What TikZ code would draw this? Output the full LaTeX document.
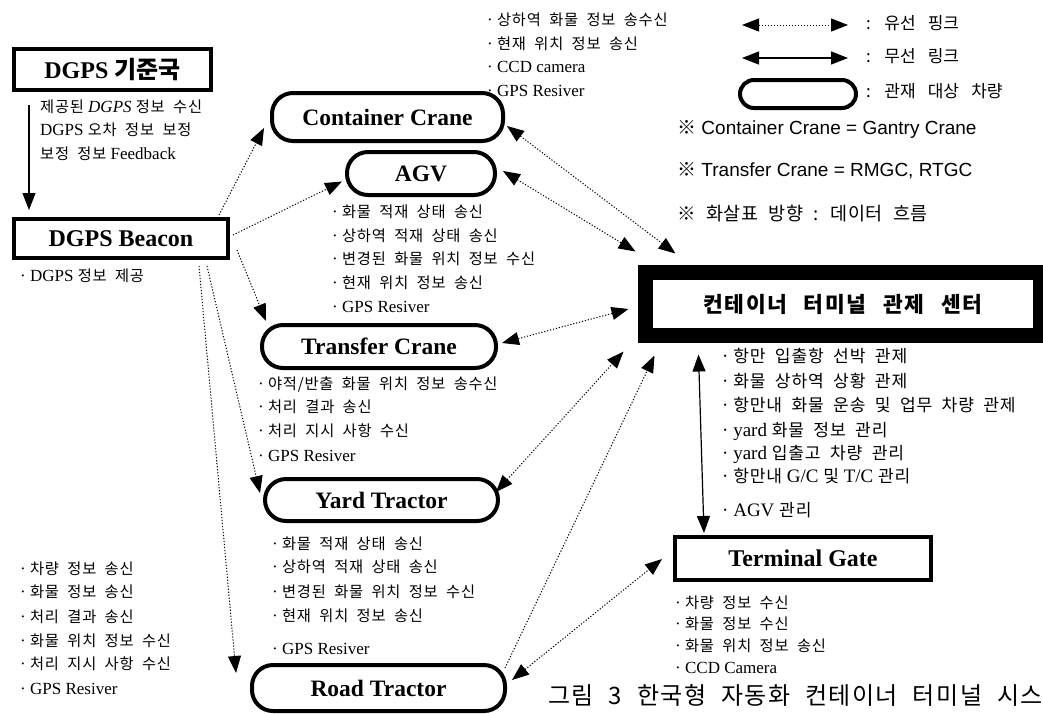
\documentclass[tikz,border=0pt]{standalone}
\usepackage{fontspec}
\setmainfont{Liberation Serif}
\newfontfamily\krs[Scale=0.9,LetterSpace=5,WordSpace=2]{Noto Sans CJK KR}
\newfontfamily\krt[WordSpace=2]{Noto Sans CJK KR}
\newfontfamily\krl[LetterSpace=8,WordSpace=2.5]{Noto Sans CJK KR}
\newfontfamily\krm[LetterSpace=3,WordSpace=2.2]{Noto Sans CJK KR}
\newfontfamily\krc[LetterSpace=6,WordSpace=2.2]{Noto Sans CJK KR}
\newfontfamily\krg[WordSpace=3.2]{Noto Sans CJK KR}
\newfontfamily\arialf{Liberation Sans}
\newcommand\K[1]{{\krs #1}}
\newcommand\KT[1]{{\krt #1}}
\usetikzlibrary{arrows.meta,calc}
\tikzset{
  bigtri/.tip={Triangle[length=17pt,width=13pt]},
  gbox/.style={draw, line width=4pt, inner sep=0pt, font=\bfseries\fontsize{24}{28}\selectfont},
  veh/.style={draw, line width=4pt, rounded corners=21pt, inner sep=0pt, font=\bfseries\fontsize{23.5}{28}\selectfont},
  lst/.style={anchor=west, inner sep=0pt, font=\fontsize{17}{20}\selectfont, text height=12pt, text depth=4pt},
  clst/.style={lst, font=\fontsize{19}{22}\selectfont},
  leg/.style={lst, font=\krg\fontsize{17}{22}\selectfont},
  dl/.style={line width=1pt, dash pattern=on 1.2pt off 1.8pt},
  sl/.style={line width=1.2pt},
}
\begin{document}
\begin{tikzpicture}[x=1pt,y=-1pt]
\useasboundingbox (0,0) rectangle (1043,713);

% ---------- main boxes ----------
\node[gbox, minimum width=197pt, minimum height=41pt] (ref) at (112.5,69.5) {DGPS \KT{\bfseries 기준국}};
\node[gbox, minimum width=214pt, minimum height=39pt] (beacon) at (121,238.5) {DGPS Beacon};
\node[veh, minimum width=231pt, minimum height=48pt] (cc) at (387.5,117) {Container Crane};
\node[veh, minimum width=148pt, minimum height=43pt] (agv) at (421,173.5) {AGV};
\node[veh, minimum width=234pt, minimum height=43pt] (tc) at (379,346.5) {Transfer Crane};
\node[veh, minimum width=233pt, minimum height=42pt] (yt) at (381.5,500) {Yard Tractor};
\node[veh, minimum width=253pt, minimum height=46pt] (rt) at (378.5,688) {Road Tractor};
\node[draw, line width=15pt, minimum width=394.5pt, minimum height=63pt, inner sep=0pt,
      font=\krl\bfseries\fontsize{21.5}{24}\selectfont] (cbox) at (842.75,304) {컨테이너 터미널 관제 센터};
\node[gbox, minimum width=256pt, minimum height=43pt] (tg) at (803,558.5) {Terminal Gate};

% ---------- text lists ----------
\node[lst] (r1) at (40,108) {\K{제공된} \textit{DGPS} \K{정보 수신}};
\node[lst] (r2) at (40,131) {DGPS \K{오차 정보 보정}};
\node[lst] (r3) at (40,155) {\K{보정 정보} Feedback};
\node[lst] (b1) at (20,277) {· DGPS \K{정보 제공}};

\node[lst] (c1) at (487,21) {· \K{상하역 화물 정보 송수신}};
\node[lst] (c2) at (487,45) {· \K{현재 위치 정보 송신}};
\node[lst] (c3) at (487,68) {· CCD camera};
\node[lst] (c4) at (487,92) {· GPS Resiver};

\node[lst] (a1) at (332,213) {· \K{화물 적재 상태 송신}};
\node[lst] (a2) at (332,237) {· \K{상하역 적재 상태 송신}};
\node[lst] (a3) at (332,260) {· \K{변경된 화물 위치 정보 수신}};
\node[lst] (a4) at (332,284) {· \K{현재 위치 정보 송신}};
\node[lst] (a5) at (332,308) {· GPS Resiver};

\node[lst] (t1) at (258,385) {· \K{야적/반출 화물 위치 정보 송수신}};
\node[lst] (t2) at (258,408) {· \K{처리 결과 송신}};
\node[lst] (t3) at (258,432) {· \K{처리 지시 사항 수신}};
\node[lst] (t4) at (258,457) {· GPS Resiver};

\node[lst] (y1) at (272,545) {· \K{화물 적재 상태 송신}};
\node[lst] (y2) at (272,568) {· \K{상하역 적재 상태 송신}};
\node[lst] (y3) at (272,593) {· \K{변경된 화물 위치 정보 수신}};
\node[lst] (y4) at (272,617) {· \K{현재 위치 정보 송신}};
\node[lst] (y5) at (272,650) {· GPS Resiver};

\node[lst] (o1) at (20,570) {· \K{차량 정보 송신}};
\node[lst] (o2) at (20,593) {· \K{화물 정보 송신}};
\node[lst] (o3) at (20,618) {· \K{처리 결과 송신}};
\node[lst] (o4) at (20,642) {· \K{화물 위치 정보 수신}};
\node[lst] (o5) at (20,665) {· \K{처리 지시 사항 수신}};
\node[lst] (o6) at (20,690) {· GPS Resiver};

\node[clst] (m1) at (722,358) {· \K{항만 입출항 선박 관제}};
\node[clst] (m2) at (722,383) {· \K{화물 상하역 상황 관제}};
\node[clst] (m3) at (722,407) {· \K{항만내 화물 운송 및 업무 차량 관제}};
\node[clst] (m4) at (722,432) {· yard \K{화물 정보 관리}};
\node[clst] (m5) at (722,455) {· yard \K{입출고 차량 관리}};
\node[clst] (m6) at (722,478) {· \K{항만내} G/C \K{및} T/C \K{관리}};
\node[clst] (m7) at (722,512) {· AGV \K{관리}};

\node[lst] (g1) at (675,604) {· \K{차량 정보 수신}};
\node[lst] (g2) at (675,625) {· \K{화물 정보 수신}};
\node[lst] (g3) at (675,647) {· \K{화물 위치 정보 송신}};
\node[lst] (g4) at (675,669) {· CCD Camera};

% ---------- legend ----------
\coordinate (la1) at (742,25); \coordinate (la2) at (848,25);
\coordinate (lb1) at (742,58); \coordinate (lb2) at (848,58);
\draw[dl, bigtri-bigtri] (la1) -- (la2);
\draw[sl, bigtri-bigtri] (lb1) -- (lb2);
\node[draw, line width=4pt, rounded corners=14pt, minimum width=116pt, minimum height=28pt, inner sep=0pt] (lveh) at (798,94) {};
\node[leg] (lt1) at (866,25) {: 유선 핑크};
\node[leg] (lt2) at (866,58) {: 무선 링크};
\node[leg] (lt3) at (866,93) {: 관재 대상 차량};
\node[lst, font=\arialf\fontsize{19}{22}\selectfont] (nt1) at (677,130) {\KT{※} Container Crane = Gantry Crane};
\node[lst, font=\arialf\fontsize{19}{22}\selectfont] (nt2) at (677,172) {\KT{※} Transfer Crane = RMGC, RTGC};
\node[lst, font=\krm\fontsize{18.5}{22}\selectfont] (nt3) at (677,216) {※ 화살표 방향 : 데이터 흐름};

% ---------- caption ----------
\node[lst, font=\krc\fontsize{24}{28}\selectfont] (cap) at (548,700) {그림 3 한국형 자동화 컨테이너 터미널 시스템};

% ---------- connectors ----------
\draw[sl, -bigtri] ($(ref.south west)+(17,13)$) -- ($(beacon.north west)+(17,-7)$);
\draw[dl, -bigtri] ($(beacon.north east)+(-11,-2)$) -- ($(cc.west)+(-6,11)$);
\draw[dl, -bigtri] ($(beacon.east)+(3,-3.5)$) -- ($(agv.west)+(-3,8)$);
\draw[dl, -bigtri] ($(beacon.east)+(7,11.5)$) -- ($(tc.north west)+(6,-2)$);
\draw[dl, -bigtri] ($(beacon.south east)+(-23,6)$) -- ($(yt.west)+(-3,-7)$);
\draw[dl, -bigtri] ($(beacon.south east)+(-31,6)$) -- ($(rt.west)+(-14,-15)$);

\draw[dl, bigtri-bigtri] ($(cc.east)+(2,9)$) -- ($(cbox.north west)+(37.5,-11.5)$);
\draw[dl, bigtri-bigtri] ($(agv.east)+(6,-2.5)$) -- ($(cbox.north west)+(-2.5,-13.5)$);
\draw[dl, bigtri-bigtri] ($(tc.east)+(4,-3.5)$) -- ($(cbox.west)+(-9.5,5)$);
\draw[dl, bigtri-bigtri] ($(yt.east)+(-4,-8)$) -- ($(cbox.south west)+(-14.5,8.5)$);
\draw[dl, -bigtri] ($(rt.east)+(-2,-20)$) -- ($(cbox.south west)+(16.5,12.5)$);
\draw[dl, bigtri-bigtri] ($(rt.east)+(5,-8)$) -- ($(tg.west)+(-11,0.5)$);
\draw[sl, bigtri-bigtri] ($(cbox.south west)+(60.5,11.5)$) -- ($(tg.north west)+(31,-2)$);
\end{tikzpicture}
\end{document}
